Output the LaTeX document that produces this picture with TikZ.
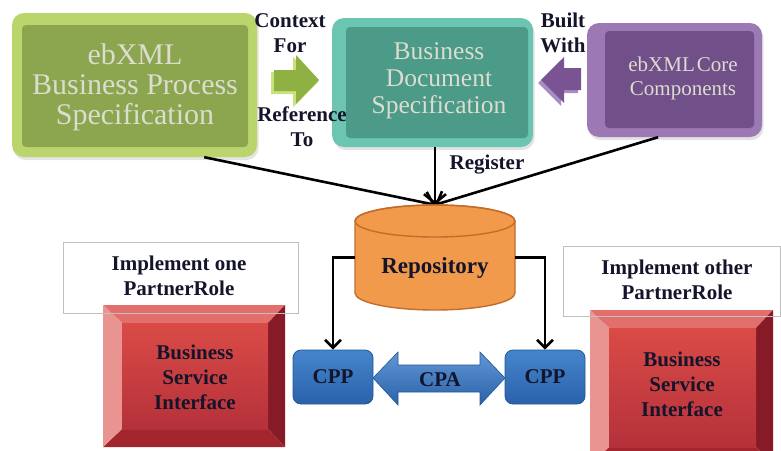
\documentclass[tikz,border=0pt]{standalone}
\usepackage{fontspec}
\setmainfont{Liberation Serif}
\usetikzlibrary{arrows.meta,shadows}

\definecolor{bpsEdge}{HTML}{B9D56C}
\definecolor{bpsFill}{HTML}{8BA64E}
\definecolor{bdsEdge}{HTML}{6CC5B1}
\definecolor{bdsFill}{HTML}{4B9B88}
\definecolor{ccEdge}{HTML}{9C78B5}
\definecolor{ccFill}{HTML}{714F88}
\definecolor{specText}{HTML}{DCDCCF}
\definecolor{labelText}{HTML}{14142A}
\definecolor{repFill}{HTML}{F19A4B}
\definecolor{repLine}{HTML}{C46C2A}
\definecolor{cppHi}{HTML}{4585CC}
\definecolor{cppLo}{HTML}{2A62AA}
\definecolor{cppLine}{HTML}{23569A}
\definecolor{bsiTop}{HTML}{E26F6C}
\definecolor{bsiLeft}{HTML}{E99491}
\definecolor{bsiRight}{HTML}{871A27}
\definecolor{bsiBottom}{HTML}{A3262F}
\definecolor{bsiHi}{HTML}{DA4B47}
\definecolor{bsiLo}{HTML}{B5313A}
\definecolor{greenArrow}{HTML}{8FB143}
\definecolor{greenArrowEdge}{HTML}{C9E27C}
\definecolor{purpleArrow}{HTML}{7A5393}
\definecolor{purpleArrowEdge}{HTML}{A98CC2}

% bevelled red box: outer corners (x1,y1) and (x2,y2)
\newcommand\redbevel[4]{%
  \fill[bsiTop] (#1,#2) -- (#3,#2) -- ({#3-17},{#2+18}) -- ({#1+19},{#2+18}) -- cycle;
  \fill[bsiRight] (#3,#2) -- (#3,#4) -- ({#3-17},{#4-18}) -- ({#3-17},{#2+18}) -- cycle;
  \fill[bsiBottom] (#1,#4) -- (#3,#4) -- ({#3-17},{#4-18}) -- ({#1+19},{#4-18}) -- cycle;
  \fill[bsiLeft] (#1,#2) -- ({#1+19},{#2+18}) -- ({#1+19},{#4-18}) -- (#1,#4) -- cycle;
  \shade[top color=bsiHi, bottom color=bsiLo] ({#1+19},{#2+18}) rectangle ({#3-17},{#4-18});
}

\begin{document}
\begin{tikzpicture}[x=1pt,y=-1pt,
  outerbox/.style={rounded corners=12pt, inner sep=0pt,
    drop shadow={shadow xshift=1.5pt, shadow yshift=-3pt, opacity=0.22}},
  spectext/.style={text=specText, align=center, inner sep=0pt},
  lbl/.style={text=labelText, align=center, inner sep=0pt,
    font=\fontsize{21}{25}\selectfont\bfseries},
  conn/.style={line width=2.6pt, -{Straight Barb[length=9pt,width=22pt]}},
  cppconn/.style={line width=2.6pt, -{Straight Barb[length=8pt,width=16pt]}},
  cppbox/.style={rounded corners=8pt, top color=cppHi, bottom color=cppLo,
    draw=cppLine, line width=0.8pt, minimum width=80pt, minimum height=54pt,
    inner sep=0pt, text=labelText, font=\fontsize{21}{25}\selectfont\bfseries},
  lblbox/.style={draw=black!25, line width=0.7pt, inner sep=0pt}
]
\useasboundingbox (0,0) rectangle (781,450);

% --- specification boxes -------------------------------------------------
\node[outerbox, fill=bpsEdge, minimum width=245pt, minimum height=144pt] (bps) at (134.5,85) {};
\fill[bpsFill, rounded corners=4pt] (22,25) rectangle (248,147);
\node[spectext, font=\fontsize{30}{30}\selectfont] (bpstext) at (135,87)
  {ebXML\\Business Process\\Specification};

\node[outerbox, fill=bdsEdge, minimum width=201pt, minimum height=129pt] (bds) at (432.5,82.5) {};
\fill[bdsFill, rounded corners=4pt] (346,27) rectangle (528,138);
\node[spectext, font=\fontsize{25.5}{27}\selectfont] (bdstext) at (439,81)
  {Business\\Document\\Specification};

\node[outerbox, fill=ccEdge, minimum width=175pt, minimum height=114pt] (cc) at (674.5,80) {};
\fill[ccFill, rounded corners=4pt] (605,31) rectangle (754,128);
\node[spectext, font=\fontsize{21}{24}\selectfont] (cctext) at (683,78)
  {ebXML\hspace{2pt}Core\\Components};

% --- block arrows between the specifications ------------------------------
\fill[greenArrowEdge] (271,72) -- (293,72) -- (293,57) -- (318,82) -- (293,107) -- (293,94) -- (271,94) -- cycle;
\fill[greenArrow] (274,70) -- (296,70) -- (296,55) -- (319,80) -- (296,104) -- (296,91) -- (274,91) -- cycle;
\fill[purpleArrowEdge] (578,71) -- (561,71) -- (561,60) -- (538,83) -- (561,106) -- (561,93) -- (578,93) -- cycle;
\fill[purpleArrow] (581,68) -- (564,68) -- (564,57) -- (541,80) -- (564,103) -- (564,90) -- (581,90) -- cycle;

\node[lbl] (ctx) at (290,33) {Context\\For};
\node[lbl] (ref) at (302,127) {Reference\\To};
\node[lbl] (built) at (563,33) {Built\\With};

% --- repository -----------------------------------------------------------
\node[minimum width=160pt, minimum height=105pt, inner sep=0pt] (rep) at (435,257.5) {};
\draw[conn] (bps.-46) -- (rep.north);
\draw[conn] (bds.south -| rep.north) -- (rep.north);
\draw[conn] (cc.-106) -- (rep.north);
\node[lbl] (reg) at (487,165) {Register};

\filldraw[fill=repFill, draw=repLine, line width=1.4pt]
  (355,221) -- (355,293) arc[start angle=180, end angle=0, x radius=80, y radius=17]
  -- (515,221) arc[start angle=0, end angle=-180, x radius=80, y radius=16] -- cycle;
\draw[repLine, line width=1.4pt] (435,221) ellipse[x radius=80, y radius=16];
\node[lbl, font=\fontsize{23}{25}\selectfont\bfseries] (reptext) at (435,268) {Repository};

% --- collaboration profiles ----------------------------------------------
\node[cppbox] (cppL) at (333,377) {CPP};
\node[cppbox] (cppR) at (545,377) {CPP};
\draw[cppconn] (rep.west) -| (cppL.north);
\draw[cppconn] (rep.east) -| (cppR.north);

\shade[top color=cppHi!85!white, bottom color=cppLo, draw=cppLine, line width=0.6pt]
  (373,378) -- (398,352) -- (398,365) -- (480,365) -- (480,352) -- (505,378)
  -- (480,405) -- (480,392) -- (398,392) -- (398,405) -- cycle;
\node[lbl] (cpa) at (440,380) {CPA};

% --- business service interfaces -----------------------------------------
\redbevel{103}{305}{285}{447}
\node[lbl] (bsiL) at (195,377) {Business\\Service\\Interface};
\redbevel{590}{310}{773}{465}
\node[lbl] (bsiR) at (682,384) {Business\\Service\\Interface};

\node[lblbox, minimum width=235pt, minimum height=71pt] (roleL) at (180.5,277.5) {};
\node[lbl] (roleLtext) at (179,276) {Implement one\\PartnerRole};
\node[lblbox, minimum width=217pt, minimum height=70pt] (roleR) at (671.5,281) {};
\node[lbl] (roleRtext) at (677,280) {Implement other\\PartnerRole};
\end{tikzpicture}
\end{document}
